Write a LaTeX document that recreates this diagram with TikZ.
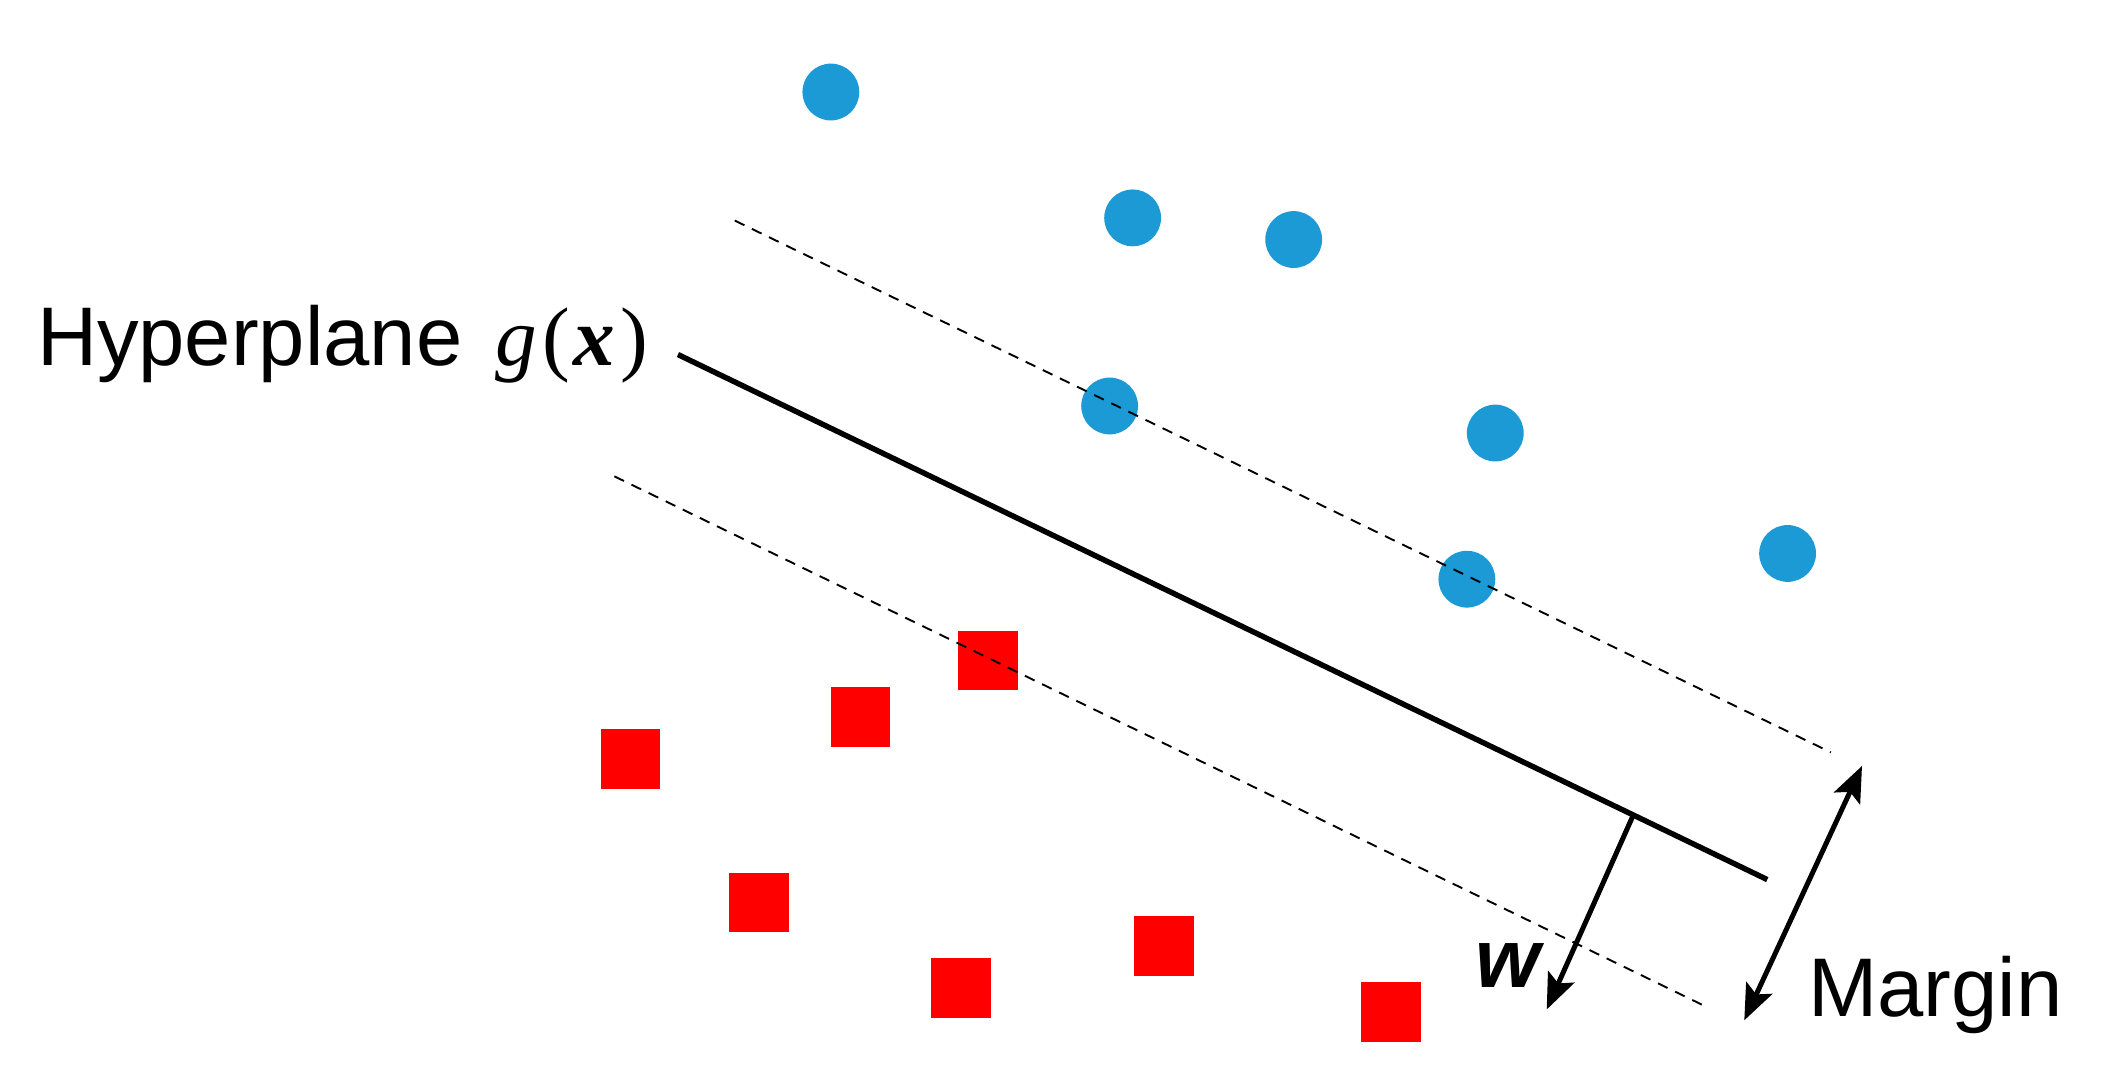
\documentclass[tikz,border=0pt]{standalone}
\usepackage{fontspec}
\setmainfont{Liberation Sans}
\newfontfamily\mserif{Liberation Serif}
\usetikzlibrary{arrows.meta,calc}
\definecolor{dotblue}{HTML}{1B9AD6}
\definecolor{sqred}{HTML}{FF0000}
\begin{document}
\begin{tikzpicture}[x=0.02cm,y=-0.02cm,
  bdot/.style={circle,fill=dotblue,inner sep=0pt,minimum size=0.84cm},
  rsq/.style={rectangle,fill=sqred,inner sep=0pt,minimum size=0.88cm},
  dashline/.style={black,line width=0.8pt,dash pattern=on 4.5pt off 3.5pt},
  mainline/.style={black,line width=2.3pt},
  arr/.style={black,line width=2.1pt,-{Stealth[length=15pt,width=12pt,inset=3pt]}},
  darr/.style={black,line width=2.1pt,{Stealth[length=15pt,width=12pt,inset=3pt]}-{Stealth[length=15pt,width=12pt,inset=3pt]}},
  lbl/.style={inner sep=0pt,font=\fontsize{35}{42}\selectfont}]
\useasboundingbox (0,0) rectangle (1560,806);
% blue circles
\node[bdot] (c1) at (614,68) {};
\node[bdot] (c2) at (837,161) {};
\node[bdot] (c3) at (956,177) {};
\node[bdot] (c4) at (820,300) {};
\node[bdot] (c5) at (1105,320) {};
\node[bdot] (c6) at (1084,428) {};
\node[bdot] (c7) at (1321,409) {};
% red squares
\node[rsq] (s1) at (730,488) {};
\node[rsq] (s2) at (636,530) {};
\node[rsq] (s3) at (466,561) {};
\node[rsq] (s4) at (561,667) {};
\node[rsq] (s5) at (860,699) {};
\node[rsq] (s6) at (710,730) {};
\node[rsq] (s7) at (1028,748) {};
% lines
\coordinate (h1) at (501,262);
\coordinate (h2) at (1306,650);
\coordinate (u1) at (543,163);
\coordinate (u2) at (1353,556);
\coordinate (l1) at (454,352);
\coordinate (l2) at (1263,745);
\draw[dashline] (u1) -- (u2);
\draw[dashline] (l1) -- (l2);
\draw[mainline] (h1) -- (h2);
% w arrow
\coordinate (wf) at ($(h1)!0.877!(h2)$);
\coordinate (wt) at (1143,746);
\draw[arr] (wf) -- (wt);
% margin arrow
\coordinate (m1) at (1376,566);
\coordinate (m2) at (1289,754);
\draw[darr] (m2) -- (m1);
% labels
\node[lbl,anchor=base west] (hyp) at (27,270) {Hyperplane\hspace{0.4em}{\mserif\itshape g\kern0.06em\upshape(\kern0.04em\bfseries\itshape x\kern0.06em\mdseries\upshape)}};
\node[lbl,anchor=base west] (w) at (1090,730) {\textbf{\textit{w}}};
\node[lbl,anchor=base west] (mar) at (1336,751) {Margin};
\end{tikzpicture}
\end{document}
